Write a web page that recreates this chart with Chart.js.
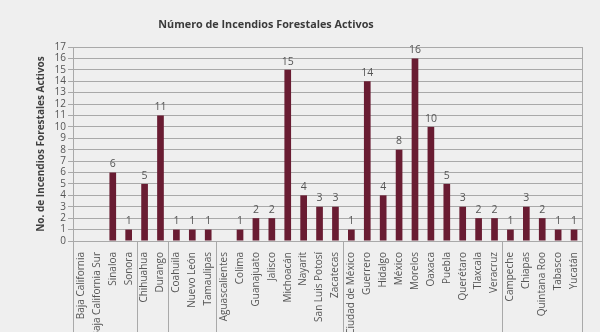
<!DOCTYPE html>
<html>
<head>
<meta charset="utf-8">
<script src="https://cdn.jsdelivr.net/npm/chart.js@4"></script>
<style>
  html,body{margin:0;padding:0;background:#efefef;}
  #wrap{width:600px;height:332px;position:relative;}
</style>
</head>
<body>
<div id="wrap"><canvas id="c" width="600" height="332"></canvas></div>
<script>
const categories = ["Baja California","Baja California Sur","Sinaloa","Sonora","Chihuahua","Durango","Coahuila","Nuevo León","Tamaulipas","Aguascalientes","Colima","Guanajuato","Jalisco","Michoacán","Nayarit","San Luis Potosí","Zacatecas","Ciudad de México","Guerrero","Hidalgo","México","Morelos","Oaxaca","Puebla","Querétaro","Tlaxcala","Veracruz","Campeche","Chiapas","Quintana Roo","Tabasco","Yucatán"];
const incendios = [0,0,6,1,5,11,1,1,1,0,1,2,2,15,4,3,3,1,14,4,8,16,10,5,3,2,2,1,3,2,1,1];
const groupSizes = [4,2,3,8,10,5];
const yTicks = [0,1,2,3,4,5,6,7,8,9,10,11,12,13,14,15,16,17];
const chartTitle = 'Número de Incendios Forestales Activos';

const FONT = "'Open Sans', 'Noto Sans', sans-serif";
const GRID = '#a9a9a9';

const framePlugin = {
  id: 'frame',
  afterDatasetsDraw(chart) {
    const ctx = chart.ctx, a = chart.chartArea, xs = chart.scales.x;
    ctx.save();
    ctx.strokeStyle = GRID;
    ctx.lineWidth = 1;
    ctx.beginPath();
    ctx.moveTo(Math.round(a.right)+0.5, a.top);
    ctx.lineTo(Math.round(a.right)+0.5, a.bottom);
    ctx.stroke();
    // group separators
    let idx = 0;
    const bounds = [0];
    groupSizes.forEach(s => { idx += s; bounds.push(idx); });
    const half = (xs.getPixelForValue(1) - xs.getPixelForValue(0)) / 2;
    bounds.forEach(b => {
      const x = Math.round(xs.getPixelForValue(b) - half) + 0.5;
      ctx.beginPath();
      ctx.moveTo(x, a.bottom);
      ctx.lineTo(x, chart.height);
      ctx.stroke();
    });
    // value labels
    const meta = chart.getDatasetMeta(0);
    ctx.fillStyle = '#555';
    ctx.font = "10.5px " + FONT;
    ctx.textAlign = 'center';
    ctx.textBaseline = 'bottom';
    meta.data.forEach((bar, i) => {
      const v = incendios[i];
      if (v > 0) ctx.fillText(String(v), bar.x, bar.y - 3);
    });
    // title
    ctx.fillStyle = '#3a3a3a';
    ctx.font = "bold 10.8px " + FONT;
    ctx.textBaseline = 'middle';
    ctx.fillText(chartTitle, 266, 25);
    ctx.restore();
  }
};

new Chart(document.getElementById('c'), {
  type: 'bar',
  data: {
    labels: categories,
    datasets: [{
      data: incendios,
      backgroundColor: '#691C32',
      barPercentage: 0.42,
      categoryPercentage: 1.0
    }]
  },
  options: {
    responsive: false,
    animation: false,
    devicePixelRatio: 1,
    layout: { padding: { left: 35, right: 18, top: 47, bottom: 0 } },
    plugins: {
      legend: { display: false },
      tooltip: { enabled: false },
      title: { display: false }
    },
    scales: {
      x: {
        grid: { display: false },
        border: { display: true, color: GRID, width: 1 },
        ticks: {
          autoSkip: false,
          maxRotation: 90,
          minRotation: 90,
          padding: 3,
          color: '#555',
          font: { family: FONT, size: 10 }
        },
        afterFit(scale) { scale.height = 91; }
      },
      y: {
        min: 0,
        max: 17,
        afterBuildTicks(scale) { scale.ticks = yTicks.map(v => ({ value: v })); },
        grid: { color: GRID, lineWidth: 1, drawTicks: true, tickLength: 5 },
        border: { display: true, color: GRID },
        ticks: {
          autoSkip: false,
          color: '#555',
          padding: 2,
          font: { family: FONT, size: 10 }
        },
        title: {
          display: true,
          text: 'No. de Incendios Forestales Activos',
          color: '#404040',
          font: { family: FONT, size: 10, weight: 'bold' },
          padding: { top: 0, bottom: 2 }
        },
        afterFit(scale) { scale.width = 38; }
      }
    }
  },
  plugins: [framePlugin]
});
</script>
</body>
</html>
